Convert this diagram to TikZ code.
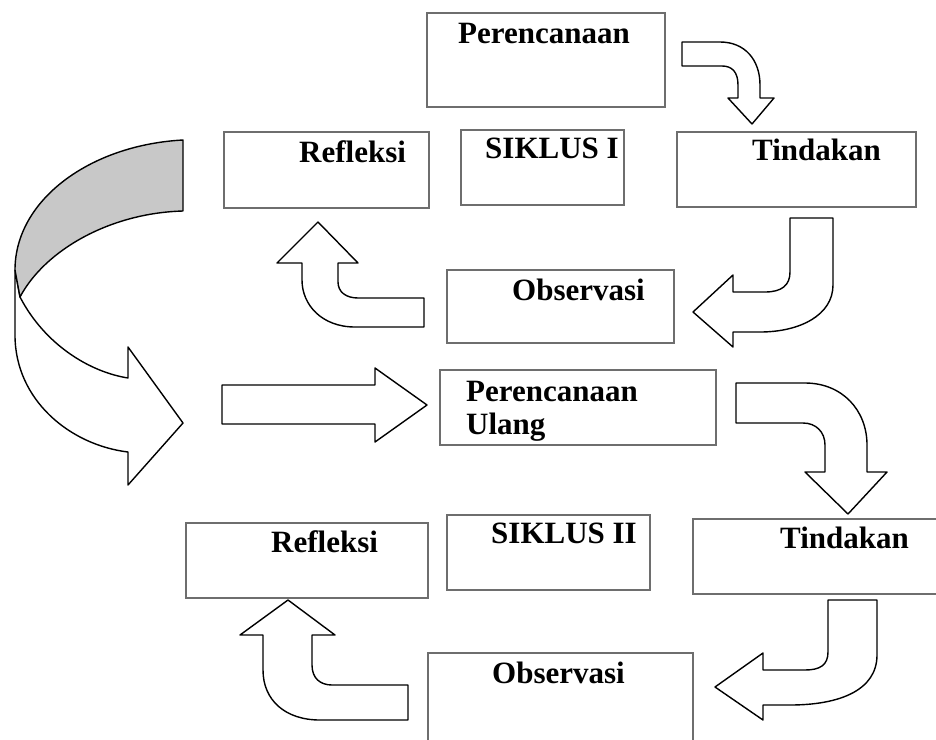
\documentclass[tikz,border=0pt]{standalone}
\usepackage{fontspec}
\setmainfont{Liberation Serif}
\usepackage{xcolor}
\usepackage{tikz}
\usetikzlibrary{positioning}
\definecolor{sikline}{HTML}{6E6E6E}
\definecolor{sikshade}{HTML}{C8C8C8}
\tikzset{%
  sikbox/.style={%
    draw=sikline,
    fill=white,
    line width=1.4pt,
    inner sep=0pt,
    outer sep=0pt,
    anchor=north west
  },
  siklabel/.style={%
    inner sep=0pt,
    anchor=base west,
    align=left,
    font=\fontsize{31}{33}\selectfont\bfseries
  },
  sikarrow/.style={draw=black,fill=white,line width=1.4pt,line join=round}
}

\begin{document}
\begin{tikzpicture}[x=1pt,y=-1pt]
    \clip (0,0) rectangle (936,739);
    \fill[white] (0,0) rectangle (936,739);

    % siklus I
    \node[sikbox,minimum width=238pt,minimum height=94pt] (plan1) at (427,13) {};
    \node[sikbox,minimum width=205pt,minimum height=76pt] (refl1) at (224,132) {};
    \node[sikbox,minimum width=163pt,minimum height=75pt] (sik1) at (461,130) {};
    \node[sikbox,minimum width=239pt,minimum height=75pt] (tind1) at (677,132) {};
    \node[sikbox,minimum width=227pt,minimum height=73pt] (obs1) at (447,270) {};

    \node[siklabel] (plan1txt) at (458,43) {Perencanaan};
    \node[siklabel] (refl1txt) at (299,162) {Refleksi};
    \node[siklabel] (sik1txt) at (485,158) {SIKLUS I};
    \node[siklabel] (tind1txt) at (752,160) {Tindakan};
    \node[siklabel] (obs1txt) at (512,300) {Observasi};

    % siklus II
    \node[sikbox,minimum width=276pt,minimum height=75pt] (plan2) at (440,370) {};
    \node[sikbox,minimum width=242pt,minimum height=75pt] (refl2) at (186,523) {};
    \node[sikbox,minimum width=203pt,minimum height=75pt] (sik2) at (447,515) {};
    \node[sikbox,minimum width=260pt,minimum height=75pt] (tind2) at (693,519) {};
    \node[sikbox,minimum width=265pt,minimum height=100pt] (obs2) at (428,653) {};

    \node[siklabel] (plan2txt) at (466,434) {Perencanaan\\Ulang};
    \node[siklabel] (refl2txt) at (271,552) {Refleksi};
    \node[siklabel] (sik2txt) at (491,543) {SIKLUS II};
    \node[siklabel] (tind2txt) at (780,548) {Tindakan};
    \node[siklabel] (obs2txt) at (492,683) {Observasi};

    % bent block arrows, siklus I
    \draw[sikarrow] (682,42) -- (720,42) .. controls (745,42) and (760,60) .. (760,85) -- (760,98) -- (774,98) -- (752,124) -- (728,98) -- (738,98) -- (738,85) .. controls (738,72) and (732,66) .. (722,66) -- (682,66) -- cycle;
    \draw[sikarrow] (790,218) -- (833,218) -- (833,285) .. controls (833,315) and (800,332) .. (760,332) -- (733,332) -- (733,347) -- (693,312) -- (733,275) -- (733,292) -- (765,292) .. controls (782,292) and (790,285) .. (790,272) -- cycle;
    \draw[sikarrow] (424,298) -- (424,327) -- (355,327) .. controls (322,327) and (302,305) .. (302,280) -- (302,263) -- (277,263) -- (318,222) -- (358,263) -- (338,263) -- (338,282) .. controls (338,292) and (346,298) .. (358,298) -- cycle;

    % big curved arrow and straight arrow
    \draw[sikarrow] (15,270) -- (15,335) .. controls (15,400) and (70,445) .. (128,452) -- (128,485) -- (183,423) -- (128,347) -- (128,378) .. controls (90,372) and (45,345) .. (20,297) -- cycle;
    \draw[sikarrow,fill=sikshade] (183,140) .. controls (90,145) and (15,200) .. (15,270) -- (20,297) .. controls (45,250) and (110,213) .. (183,211) -- cycle;
    \draw[sikarrow] (222,385) -- (375,385) -- (375,368) -- (427,405) -- (375,442) -- (375,424) -- (222,424) -- cycle;

    % bent block arrows, siklus II
    \draw[sikarrow] (736,383) -- (805,383) .. controls (842,383) and (867,410) .. (867,445) -- (867,472) -- (887,472) -- (848,514) -- (805,472) -- (825,472) -- (825,445) .. controls (825,432) and (816,423) .. (803,423) -- (736,423) -- cycle;
    \draw[sikarrow] (828,600) -- (877,600) -- (877,655) .. controls (877,690) and (840,705) .. (790,705) -- (763,705) -- (763,720) -- (715,687) -- (763,653) -- (763,670) -- (805,670) .. controls (820,670) and (828,665) .. (828,652) -- cycle;
    \draw[sikarrow] (408,685) -- (408,720) -- (320,720) .. controls (285,720) and (263,700) .. (263,670) -- (263,635) -- (240,635) -- (288,600) -- (335,635) -- (312,635) -- (312,665) .. controls (312,678) and (320,685) .. (332,685) -- cycle;
  \end{tikzpicture}
\end{document}
